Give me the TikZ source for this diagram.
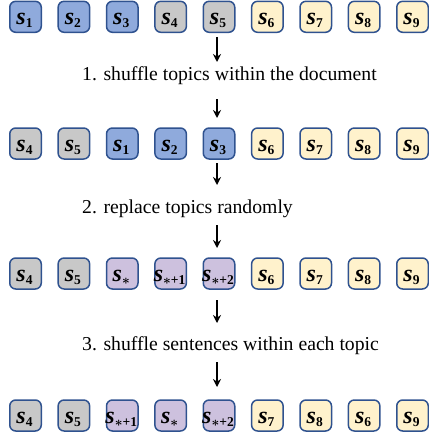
\RequirePackage{fix-cm}
\documentclass[tikz,border=0pt]{standalone}
\usepackage{amsmath}
\usepackage{fontspec}
\setmainfont{Liberation Serif}
\usetikzlibrary{arrows.meta}
\definecolor{bblue}{HTML}{8FAADC}
\definecolor{bgray}{HTML}{C8C8C8}
\definecolor{byel}{HTML}{FFF2CC}
\definecolor{bpur}{HTML}{CDC1DE}
\definecolor{bord}{HTML}{2F528F}
\newcommand\sublab[1]{\makebox[0pt][c]{\kern-2pt{\fontsize{24}{24}\selectfont\bfseries\itshape s}\raisebox{-3.5pt}{\fontsize{13.5}{13.5}\selectfont\bfseries\boldmath #1}}}
\begin{document}
\begin{tikzpicture}[x=1pt,y=1pt,
  box/.style={draw=bord, line width=1.5pt, rounded corners=6pt,
    minimum width=31.5pt, minimum height=31pt, inner sep=0pt,
    text height=15pt, text depth=0pt},
  lbl/.style={inner sep=0pt, font=\fontsize{19.7}{22}\selectfont},
  arr/.style={-{Stealth[length=8pt,width=8pt]}, line width=1.4pt}]
\useasboundingbox (0,0) rectangle (428,-436);
% row 1
\foreach \lab/\col [count=\i] in {1/bblue,2/bblue,3/bblue,4/bgray,5/bgray,6/byel,7/byel,8/byel,9/byel}
  \node[box, fill=\col] (b1\i) at ({25.5+48.375*(\i-1)}, -16.8) {\sublab{\lab}};
% row 2
\foreach \lab/\col [count=\i] in {4/bgray,5/bgray,1/bblue,2/bblue,3/bblue,6/byel,7/byel,8/byel,9/byel}
  \node[box, fill=\col] (b2\i) at ({25.5+48.375*(\i-1)}, -143.5) {\sublab{\lab}};
% row 3
\foreach \lab/\col [count=\i] in {4/bgray,5/bgray,{$\ast$}/bpur,{$\ast$+1}/bpur,{$\ast$+2}/bpur,6/byel,7/byel,8/byel,9/byel}
  \node[box, fill=\col] (b3\i) at ({25.5+48.375*(\i-1)}, -273.5) {\sublab{\lab}};
% row 4
\foreach \lab/\col [count=\i] in {4/bgray,5/bgray,{$\ast$+1}/bpur,{$\ast$}/bpur,{$\ast$+2}/bpur,7/byel,8/byel,6/byel,9/byel}
  \node[box, fill=\col] (b4\i) at ({25.5+48.375*(\i-1)}, -415.5) {\sublab{\lab}};
% texts
\node[lbl, anchor=base west] (t1) at (82,-80.5) {1. shuffle topics within the document};
\node[lbl, anchor=base west] (t2) at (82,-213) {2. replace topics randomly};
\node[lbl, anchor=base west] (t3) at (82,-350) {3. shuffle sentences within each topic};
% arrow ends
\coordinate (a1s) at (217,-37);  \coordinate (a1e) at (217,-62);
\coordinate (a2s) at (217,-99);  \coordinate (a2e) at (217,-118);
\coordinate (a3s) at (217,-163); \coordinate (a3e) at (217,-185);
\coordinate (a4s) at (217,-225); \coordinate (a4e) at (217,-248);
\coordinate (a5s) at (217,-300); \coordinate (a5e) at (217,-323);
\coordinate (a6s) at (217,-362); \coordinate (a6e) at (217,-387);
\foreach \k in {1,...,6} \draw[arr] (a\k s) -- (a\k e);
\end{tikzpicture}
\end{document}
